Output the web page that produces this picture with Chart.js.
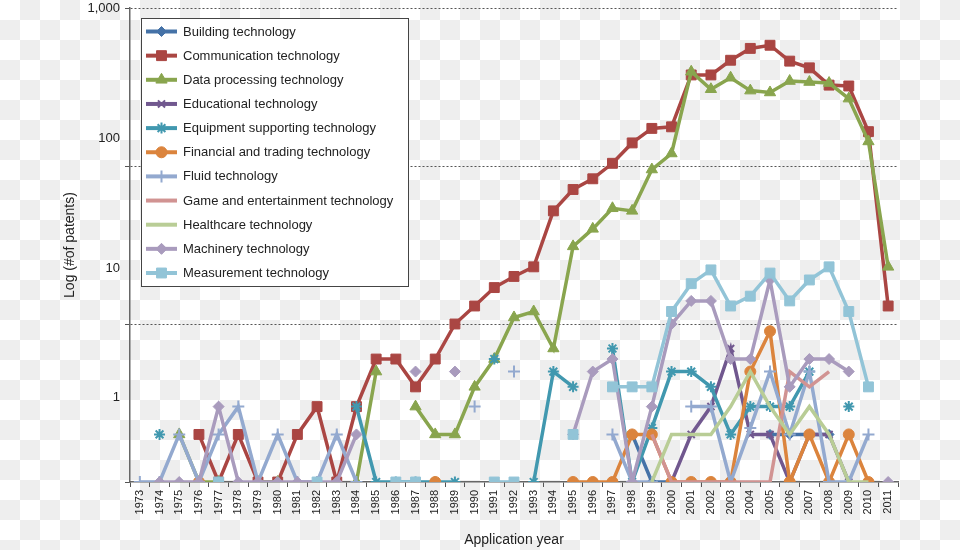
<!DOCTYPE html>
<html>
<head>
<meta charset="utf-8">
<script src="https://cdn.jsdelivr.net/npm/chart.js@4.4.1/dist/chart.umd.min.js"></script>
<style>
  html, body { margin: 0; padding: 0; }
  body {
    width: 960px; height: 550px; overflow: hidden;
    background: repeating-conic-gradient(#eeeeee 0 25%, #ffffff 0 50%) 0 0 / 40px 40px;
  }
  #wrap { position: relative; width: 960px; height: 550px; }
</style>
</head>
<body>
<div id="wrap"><canvas id="chart1"></canvas></div>
<script>
/* ------------------------------------------------------------------ */
/* DATA  (patent counts per application year, log axis)               */
/* ------------------------------------------------------------------ */

    const _ = null;

    var years = ['1973','1974','1975','1976','1977','1978','1979','1980','1981','1982',
                 '1983','1984','1985','1986','1987','1988','1989','1990','1991','1992',
                 '1993','1994','1995','1996','1997','1998','1999','2000','2001','2002',
                 '2003','2004','2005','2006','2007','2008','2009','2010','2011'];

    //                 73 74 75 76 77 78 79 80 81 82 83 84 85 86 87 88 89 90 91 92 93 94 95 96 97  98  99  00  01  02  03  04  05  06  07  08  09  10  11
    var building     = [_, _, _, _, _, _, _, _, _, _, _, _, _, _, _, _, _, _, _, _, _, _, _, _, _,  2,  1,  1,  _,  _,  _,  _,  2,  2,  2,  2,  _,  _,  _];
    var communication= [_, _, _, 2, 1, 2, 1, 1, 2, 3, 1, 3, 6, 6, 4, 6,10,13,17,20,23,52,71,83,104,140,173,177,377,377,467,555,581,461,418,325,321,165,13];
    var dataProc     = [_, _, 2, 1, 1, _, 1, 1, _, _, _, 1, 5, _, 3, 2, 2, 4, 6,11,12, 7,31,40,54, 52, 95,120,395,306,362,300,292,345,340,335,267,143,23];
    var educational  = [_, _, _, _, _, _, _, _, _, _, _, _, _, _, _, _, _, _, _, _, _, _, _, _, _,  _,  _,  1,  2,  3,  7,  2,  2,  1,  2,  2,  1,  _,  _];
    var equipment    = [_, 2, _, _, 1, _, _, _, _, _, _, 3, 1, 1, 1, 1, 1, _, 6, _, 1, 5, 4, _, 7,  1,2.2,  5,  5,  4,  2,  3,  3,  3,  5,  _,  3,  _,  _];
    var financial    = [_, _, _, 1, _, _, _, _, _, _, _, _, _, _, _, 1, _, _, _, _, _, _, 1, 1, 1,  2,  2,  1,  1,  1,  1,  5,  9,  1,  2,  1,  2,  1,  _];
    var fluid        = [1, 1, 2, 1, 2, 3, 1, 2, 1, 1, 2, 1, _, _, _, _, _, 3, _, 5, _, _, _, _, 2,  1,  1,  _,  3,  3,  1,2.2,  5,  2,  5,  1,  1,  2,  _];
    var game         = [_, _, _, _, _, _, _, _, _, _, _, _, _, _, _, _, _, _, _, _, _, _, _, _, _,  _,  2,  1,  1,  1,  1,  1,  1,  5,  4,  5,  _,  _,  _];
    var healthcare   = [_, _, _, _, _, _, _, _, _, _, _, _, _, _, _, _, _, _, _, _, _, _, _, _, _,  _,  1,  2,  2,  2,  3,  5,  3,  2,  3,  2,  1,  1,  _];
    var machinery    = [_, 1, 1, 1, 3, 1, 1, 1, 1, 1, 1, 2, _, _, 5, _, 5, _, _, _, _, _, 2, 5, 6,  1,  3, 10, 14, 14,  6,  6, 19,  4,  6,  6,  5,  _,  1];
    var measurement  = [_, _, _, _, 1, _, _, _, _, 1, _, _, _, 1, 1, _, _, _, 1, 1, _, _, 2, _, 4,  4,  4, 12, 18, 22, 13, 15, 21, 14, 19, 23, 12,  4,  _];

    var seriesNames  = ['Building technology','Communication technology','Data processing technology',
                        'Educational technology','Equipment supporting technology','Financial and trading technology',
                        'Fluid technology','Game and entertainment technology','Healthcare technology',
                        'Machinery technology','Measurement technology'];
    var seriesColors = ['#4572A7','#AA4643','#89A54E','#71588F','#4198AF','#DB843D',
                        '#93A9CF','#D19392','#B9CD96','#A99BBD','#92C4D7'];

    // y axis: grid/tick marks and (offset) tick labels as printed in the original
    var yMarkAt     = [1, 10, 100, 1000];
    var yGridAt     = [10, 100, 1000];
    var yLabelAt    = [3.43, 22.6, 149, 1000];
    var yLabelText  = ['1', '10', '100', '1,000'];

/* ------------------------------------------------------------------ */
/* STYLES                                                             */
/* ------------------------------------------------------------------ */

    var allSeries = [building, communication, dataProc, educational, equipment, financial,
                     fluid, game, healthcare, machinery, measurement];

    var markers = [
        { style: 'rectRot',  r: 5,   bw: 1 },
        { style: 'rect',     r: 7,   bw: 1 },
        { style: 'triangle', r: 6.5, bw: 1 },
        { style: 'crossRot', r: 5,   bw: 2 },
        { style: 'star',     r: 5.5, bw: 2 },
        { style: 'circle',   r: 5.5, bw: 1 },
        { style: 'cross',    r: 6,   bw: 2 },
        { style: 'circle',   r: 0,   bw: 0 },
        { style: 'circle',   r: 0,   bw: 0 },
        { style: 'rectRot',  r: 5.5, bw: 1 },
        { style: 'rect',     r: 7,   bw: 1 }
    ];

    Chart.defaults.font.family = "'Liberation Sans', Arial, sans-serif";
    Chart.defaults.color = '#222';

/* ------------------------------------------------------------------ */
/* LEGEND INSIDE THE PLOT                                             */
/* ------------------------------------------------------------------ */

    var insideLegend = {
        id: 'insideLegend',
        afterDatasetsDraw: function(chart){
            var ctx = chart.ctx;
            var ds = chart.data.datasets;
            ctx.save();
            ctx.fillStyle = '#ffffff';
            ctx.fillRect(141, 18, 267, 268);
            ctx.strokeStyle = '#444';
            ctx.lineWidth = 1;
            ctx.strokeRect(141.5, 18.5, 267, 268);

            for(let i = 0; i < ds.length; i++){
                var y = 31.5 + i * 24.15;
                ctx.strokeStyle = ds[i].borderColor;
                ctx.lineWidth = 4;
                ctx.beginPath();
                ctx.moveTo(146, y);
                ctx.lineTo(177, y);
                ctx.stroke();
                if(ds[i].pointRadius > 0){
                    ctx.fillStyle = ds[i].pointBackgroundColor;
                    ctx.strokeStyle = ds[i].pointBorderColor;
                    ctx.lineWidth = ds[i].pointBorderWidth;
                    Chart.helpers.drawPoint(ctx, {
                        pointStyle: ds[i].pointStyle,
                        radius: ds[i].pointRadius,
                        rotation: 0,
                        borderWidth: ds[i].pointBorderWidth
                    }, 161.5, y);
                }
                ctx.fillStyle = '#222';
                ctx.font = "13px 'Liberation Sans', Arial, sans-serif";
                ctx.textBaseline = 'middle';
                ctx.textAlign = 'left';
                ctx.fillText(ds[i].label, 183, y + 0.5);
            }
            ctx.restore();
        }
    };

/* ------------------------------------------------------------------ */
/* BUILD CHART                                                        */
/* ------------------------------------------------------------------ */

    var datasets = [];
    for(let i = 0; i < allSeries.length; i++){
        datasets.push({
            label: seriesNames[i],
            data: allSeries[i],
            borderColor: seriesColors[i],
            backgroundColor: seriesColors[i],
            pointBackgroundColor: seriesColors[i],
            pointBorderColor: seriesColors[i],
            pointStyle: markers[i].style,
            pointRadius: markers[i].r,
            pointBorderWidth: markers[i].bw,
            borderWidth: 3.5,
            tension: 0,
            spanGaps: false,
            fill: false,
            order: -i
        });
    }

    var ctx = document.getElementById('chart1').getContext('2d');
    var chart1 = new Chart(ctx, {
        type: 'line',
        data: { labels: years, datasets: datasets },
        plugins: [insideLegend],
        options: {
            responsive: true,
            maintainAspectRatio: false,
            animation: false,
            events: [],
            devicePixelRatio: 1,
            layout: { padding: { left: 0, right: 62, top: 6, bottom: 0 } },
            plugins: { legend: { display: false }, tooltip: { enabled: false } },
            scales: {
                x: {
                    type: 'category',
                    offset: true,
                    grid: { offset: true, drawOnChartArea: false, tickLength: 5, tickColor: '#555', lineWidth: 1 },
                    border: { color: '#666', width: 1.5 },
                    ticks: { autoSkip: false, maxRotation: 90, minRotation: 90, padding: 3,
                             font: { size: 11 }, color: '#222' },
                    title: { display: true, text: 'Application year', font: { size: 14 }, color: '#222',
                             padding: { top: 0, bottom: 1.6 } },
                    afterFit: function(s){ s.height = 68; s.paddingLeft = 0; s.paddingRight = 0; }
                },
                y: {
                    type: 'logarithmic',
                    min: 1,
                    max: 1000,
                    afterBuildTicks: function(s){
                        var v = yMarkAt.concat(yLabelAt.slice(0, 3)).sort(function(a, b){ return a - b; });
                        s.ticks = v.map(function(x){ return { value: x }; });
                    },
                    grid: {
                        color: function(c){ return (c.tick && yGridAt.indexOf(c.tick.value) >= 0) ? '#555' : 'rgba(0,0,0,0)'; },
                        tickColor: function(c){ return (c.tick && yMarkAt.indexOf(c.tick.value) >= 0) ? '#555' : 'rgba(0,0,0,0)'; },
                        lineWidth: 1,
                        tickLength: 5
                    },
                    border: { color: '#666', width: 1.5, dash: [2, 2] },
                    ticks: {
                        autoSkip: false,
                        padding: 5,
                        font: { size: 13 },
                        color: '#222',
                        callback: function(v){
                            var k = yLabelAt.indexOf(v);
                            return k >= 0 ? yLabelText[k] : '';
                        }
                    },
                    title: { display: true, text: 'Log (#of patents)', font: { size: 14 }, color: '#222',
                             padding: { top: 61.6, bottom: 0 } },
                    afterFit: function(s){ s.width = 130; s.paddingTop = 0; s.paddingBottom = 0; }
                }
            }
        }
    });
</script>
</body>
</html>
